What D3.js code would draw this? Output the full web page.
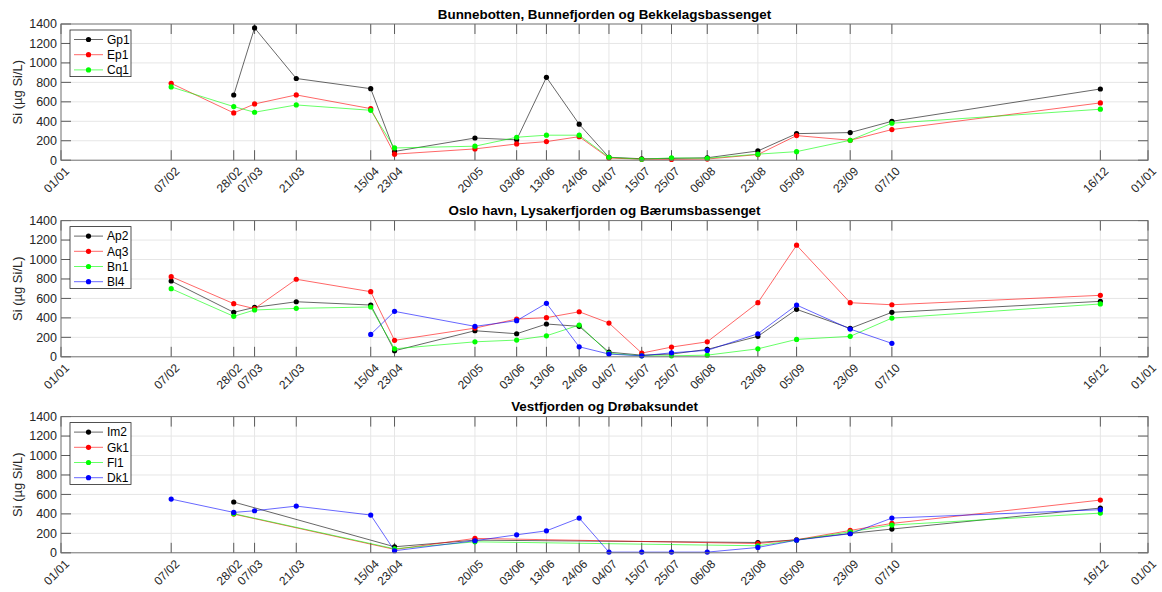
<!DOCTYPE html>
<html>
<head>
<meta charset="utf-8">
<script src="https://cdn.jsdelivr.net/npm/d3@7"></script>
<style>
  html, body { margin: 0; padding: 0; background: #fff; }
  svg { display: block; font-family: "Liberation Sans", Arial, Helvetica, sans-serif; }
</style>
</head>
<body>
<svg id="chart" width="1162" height="592"></svg>
<script>
// Sampling dates (day/month) shared by all stations
const dates = ["07/02","28/02","07/03","21/03","15/04","23/04","20/05","03/06","13/06","24/06",
               "04/07","15/07","25/07","06/08","23/08","05/09","23/09","07/10","16/12"];

// Silicate, µg Si/L (null = not sampled)
const gp1 = [null, 670, 1360, 840, 735, 90, 228, 210, 852, 370, 30, 15, 18, 25, 95, 273, 284, 400, 732];
const ep1 = [790, 486, 578, 671, 530, 62, 116, 167, 191, 242, 22, 10, 8, 12, 58, 253, 205, 315, 589];
const cq1 = [753, 551, 493, 568, 513, 126, 144, 236, 257, 257, 30, 10, 24, 20, 62, 88, 205, 380, 524];

const ap2 = [779, 457, 508, 566, 532, 62, 268, 237, 337, 313, 48, 17, 28, 76, 210, 488, 292, 457, 570];
const aq3 = [824, 546, 495, 797, 669, 169, 295, 388, 402, 463, 347, 38, 100, 154, 556, 1147, 556, 535, 632];
const bn1 = [700, 416, 481, 498, 512, 82, 154, 172, 216, 326, 35, 10, 10, 17, 82, 179, 210, 398, 543];
const bl4 = [null, null, null, null, 230, 467, 313, 371, 550, 103, 28, 10, 41, 66, 237, 532, 285, 138, null];

const im2 = [null, 522, null, null, null, 62, 130, null, null, null, null, null, null, null, 106, 134, 199, 244, 460];
const gk1 = [null, 398, null, null, null, 35, 148, null, null, null, null, null, null, null, 95, 134, 230, 302, 542];
const fl1 = [null, 402, null, null, null, 41, 113, null, null, null, null, null, null, null, 72, 130, 216, 285, 408];
const dk1 = [552, 415, 432, 480, 388, 21, 124, 185, 226, 357, 7, 7, 7, 7, 55, 130, 196, 357, 443];

const yTicks = [0, 200, 400, 600, 800, 1000, 1200, 1400];

const panels = [
  { title: "Bunnebotten, Bunnefjorden og Bekkelagsbassenget",
    series: [{name: "Gp1", values: gp1, color: "#000000"},
             {name: "Ep1", values: ep1, color: "#ff0000"},
             {name: "Cq1", values: cq1, color: "#00ff00"}] },
  { title: "Oslo havn, Lysakerfjorden og Bærumsbassenget",
    series: [{name: "Ap2", values: ap2, color: "#000000"},
             {name: "Aq3", values: aq3, color: "#ff0000"},
             {name: "Bn1", values: bn1, color: "#00ff00"},
             {name: "Bl4", values: bl4, color: "#0000ff"}] },
  { title: "Vestfjorden og Drøbaksundet",
    series: [{name: "Im2", values: im2, color: "#000000"},
             {name: "Gk1", values: gk1, color: "#ff0000"},
             {name: "Fl1", values: fl1, color: "#00ff00"},
             {name: "Dk1", values: dk1, color: "#0000ff"}] }
];

const YEAR = 2019;
const parseDM = s => { const [d, m] = s.split("/").map(Number); return new Date(YEAR, m - 1, d); };
const dateObjs = dates.map(parseDM);
const start = new Date(YEAR, 0, 1), end = new Date(YEAR + 1, 0, 1);
const tickDates = [start, ...dateObjs, end];
const fmt = d3.timeFormat("%d/%m");

const svg = d3.select("#chart");
const left = 61, right = 1148;
const panelTops = [24, 220.6, 416.6];
const panelH = 136.2;
const tickLen = 10;

const x = d3.scaleTime().domain([start, end]).range([left, right]);

panels.forEach((p, i) => {
  const top = panelTops[i], bottom = top + panelH;
  const y = d3.scaleLinear().domain([0, 1400]).range([bottom, top]);
  const g = svg.append("g");

  // grid
  g.append("g").selectAll("line").data(yTicks.slice(1, -1)).join("line")
    .attr("x1", left).attr("x2", right)
    .attr("y1", d => y(d)).attr("y2", d => y(d))
    .attr("stroke", "#e6e6e6").attr("stroke-width", 1);
  g.append("g").selectAll("line").data(dateObjs).join("line")
    .attr("x1", d => x(d)).attr("x2", d => x(d))
    .attr("y1", top).attr("y2", bottom)
    .attr("stroke", "#e6e6e6").attr("stroke-width", 1);

  // tick marks inside the box (bottom/top, left/right)
  const tk = g.append("g").attr("stroke", "#5a5a5a").attr("stroke-width", 1);
  tk.selectAll(".tb").data(tickDates).join("line").attr("class", "tb")
    .attr("x1", d => x(d)).attr("x2", d => x(d))
    .attr("y1", bottom).attr("y2", bottom - tickLen);
  tk.selectAll(".tt").data(tickDates).join("line").attr("class", "tt")
    .attr("x1", d => x(d)).attr("x2", d => x(d))
    .attr("y1", top).attr("y2", top + tickLen);
  tk.selectAll(".tl").data(yTicks).join("line").attr("class", "tl")
    .attr("x1", left).attr("x2", left + tickLen)
    .attr("y1", d => y(d)).attr("y2", d => y(d));
  tk.selectAll(".tr").data(yTicks).join("line").attr("class", "tr")
    .attr("x1", right).attr("x2", right - tickLen)
    .attr("y1", d => y(d)).attr("y2", d => y(d));

  // series
  p.series.forEach(s => {
    const pts = s.values.map((v, k) => ({ d: dateObjs[k], v })).filter(o => o.v !== null);
    const line = d3.line().x(o => x(o.d)).y(o => y(o.v));
    g.append("path").datum(pts)
      .attr("d", line).attr("fill", "none")
      .attr("stroke", s.color).attr("stroke-width", 0.8).attr("stroke-opacity", 0.75);
    g.append("g").selectAll("circle").data(pts).join("circle")
      .attr("cx", o => x(o.d)).attr("cy", o => y(o.v)).attr("r", 2.6)
      .attr("fill", s.color);
  });

  // box
  g.append("rect").attr("x", left).attr("y", top)
    .attr("width", right - left).attr("height", panelH)
    .attr("fill", "none").attr("stroke", "#6e6e6e").attr("stroke-width", 1);

  // y tick labels
  g.append("g").selectAll("text").data(yTicks).join("text")
    .attr("x", left - 4).attr("y", d => y(d)).attr("dy", "0.35em")
    .attr("text-anchor", "end").attr("font-size", 12.5).attr("fill", "#262626")
    .text(d => d);

  // x tick labels, rotated
  g.append("g").selectAll("text").data(tickDates).join("text")
    .attr("transform", d => `translate(${x(d) + 3},${bottom + 6}) rotate(-45)`)
    .attr("text-anchor", "end").attr("dy", "0.7em")
    .attr("font-size", 12).attr("fill", "#262626")
    .text(d => fmt(d));

  // y axis label
  g.append("text")
    .attr("transform", `translate(${22},${(top + bottom) / 2}) rotate(-90)`)
    .attr("text-anchor", "middle").attr("font-size", 13).attr("fill", "#262626")
    .text("Si (µg Si/L)");

  // title
  g.append("text").attr("x", (left + right) / 2).attr("y", top - 5.4)
    .attr("text-anchor", "middle").attr("font-size", 13.4).attr("font-weight", "bold")
    .attr("fill", "#000").text(p.title);

  // legend
  const lx = left + 9, ly = top + 6, rowH = 15.2;
  const lg = g.append("g");
  lg.append("rect").attr("x", lx).attr("y", ly).attr("width", 61)
    .attr("height", p.series.length * rowH + 1)
    .attr("fill", "#fff").attr("stroke", "#262626").attr("stroke-width", 0.8);
  p.series.forEach((s, k) => {
    const cy = ly + 9.5 + k * rowH;
    lg.append("line").attr("x1", lx + 4).attr("x2", lx + 33).attr("y1", cy).attr("y2", cy)
      .attr("stroke", s.color).attr("stroke-width", 0.8).attr("stroke-opacity", 0.75);
    lg.append("circle").attr("cx", lx + 18.5).attr("cy", cy).attr("r", 2.6).attr("fill", s.color);
    lg.append("text").attr("x", lx + 37).attr("y", cy).attr("dy", "0.35em")
      .attr("font-size", 12).attr("fill", "#000").text(s.name);
  });
});
</script>
</body>
</html>
